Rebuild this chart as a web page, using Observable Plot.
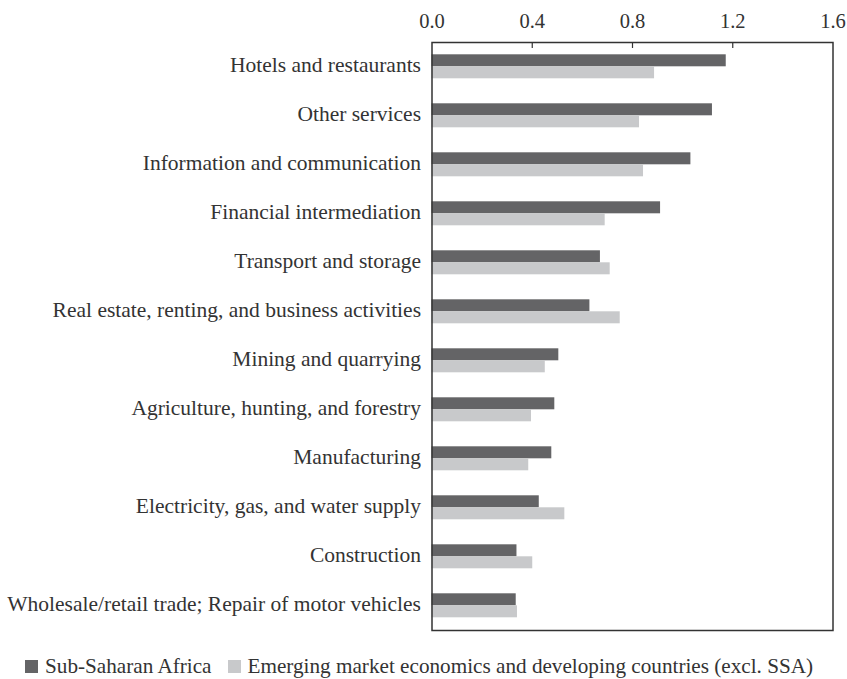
<!DOCTYPE html>
<html>
<head>
<meta charset="utf-8">
<script src="https://cdn.jsdelivr.net/npm/d3@7"></script>
<script src="https://cdn.jsdelivr.net/npm/@observablehq/plot@0.6"></script>
<style>
  body { margin: 0; background: #fff; }
  #legend { font-family: "Liberation Serif", serif; font-size: 21.2px; color: #333; display: flex; align-items: center; margin-left: 25px; margin-top: 14px; white-space: nowrap; }
  .sw { display: inline-block; width: 13px; height: 13px; margin-right: 7px; }
  .item { display: flex; align-items: center; margin-right: 16px; }
</style>
</head>
<body>
<div id="chart"></div>
<div id="legend"></div>
<script>
const categories = [
  "Hotels and restaurants",
  "Other services",
  "Information and communication",
  "Financial intermediation",
  "Transport and storage",
  "Real estate, renting, and business activities",
  "Mining and quarrying",
  "Agriculture, hunting, and forestry",
  "Manufacturing",
  "Electricity, gas, and water supply",
  "Construction",
  "Wholesale/retail trade; Repair of motor vehicles"
];
const seriesNames = [
  "Sub-Saharan Africa",
  "Emerging market economics and developing countries (excl. SSA)"
];
const ssaValues = [1.174, 1.119, 1.033, 0.912, 0.672, 0.630, 0.506, 0.490, 0.478, 0.428, 0.339, 0.336];
const emdeValues = [0.888, 0.828, 0.844, 0.691, 0.711, 0.751, 0.452, 0.397, 0.386, 0.530, 0.402, 0.341];
const xTicks = [0, 0.4, 0.8, 1.2, 1.6];
const innerTicks = [0.4, 0.8, 1.2];
const colors = ["#646466", "#c8c9cb"];

const data = categories.flatMap((c, i) => [
  {category: c, series: seriesNames[0], value: ssaValues[i]},
  {category: c, series: seriesNames[1], value: emdeValues[i]}
]);

const chart = Plot.plot({
  width: 847,
  height: 640,
  marginLeft: 431.5,
  marginRight: 14.5,
  marginTop: 40.7,
  marginBottom: 8,
  style: {fontFamily: "Liberation Serif, serif", fontSize: "20px", color: "#333", background: "#fff"},
  x: {domain: [0, 1.6]},
  y: {domain: seriesNames, paddingInner: 0, paddingOuter: 0.94, axis: null},
  fy: {domain: categories, padding: 0, label: null, axis: null},
  color: {domain: seriesNames, range: colors},
  marks: [
    Plot.barX(data, {fy: "category", y: "series", x: "value", fill: "series"}),
    Plot.axisFy({anchor: "left", tickSize: 0, tickPadding: 11, label: null, fontSize: 21.5, dy: -2}),
    Plot.axisX({anchor: "top", ticks: xTicks, tickFormat: d => d.toFixed(1), tickSize: 0, tickPadding: 15, label: null, fontSize: 20.5}),
    Plot.axisX({anchor: "bottom", frameAnchor: "top", facetAnchor: "top", ticks: innerTicks, tickSize: 6, tickFormat: () => "", label: null, stroke: "#333", strokeWidth: 1.2}),
    Plot.frame({facet: "super", stroke: "#333", strokeWidth: 1.5})
  ]
});
document.getElementById("chart").append(chart);

const legend = document.getElementById("legend");
seriesNames.forEach((name, i) => {
  const item = document.createElement("span");
  item.className = "item";
  const sw = document.createElement("span");
  sw.className = "sw";
  sw.style.background = colors[i];
  item.append(sw, document.createTextNode(name));
  legend.append(item);
});
</script>
</body>
</html>
